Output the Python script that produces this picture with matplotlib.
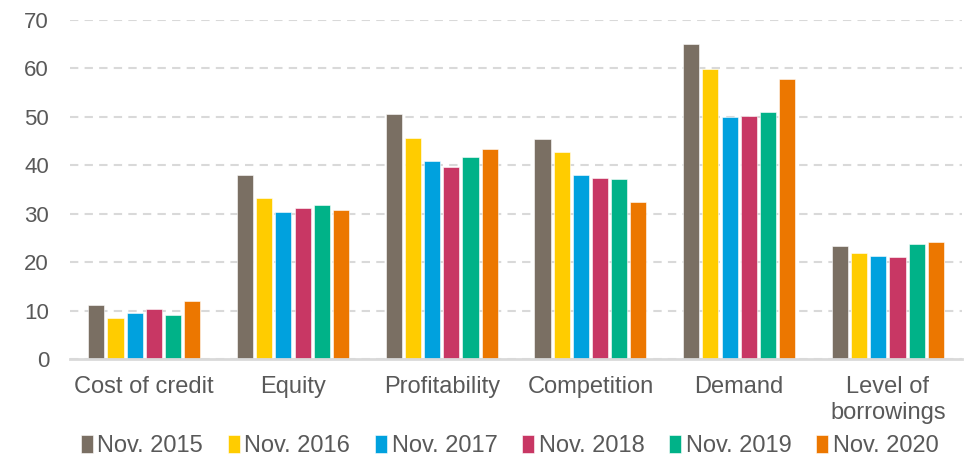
import numpy as np
import matplotlib
matplotlib.use('Agg')
import matplotlib.pyplot as plt

plt.rcParams['font.family'] = ['Liberation Sans', 'DejaVu Sans']

categories = ['Cost of credit', 'Equity', 'Profitability', 'Competition', 'Demand', 'Level of\nborrowings']
series_names = ['Nov. 2015', 'Nov. 2016', 'Nov. 2017', 'Nov. 2018', 'Nov. 2019', 'Nov. 2020']

nov_2015 = [11.2, 37.9, 50.5, 45.5, 65.0, 23.4]
nov_2016 = [8.4, 33.3, 45.6, 42.8, 59.8, 21.8]
nov_2017 = [9.6, 30.4, 40.8, 38.0, 49.9, 21.2]
nov_2018 = [10.4, 31.2, 39.7, 37.3, 50.2, 21.1]
nov_2019 = [9.2, 31.8, 41.8, 37.1, 50.9, 23.8]
nov_2020 = [11.9, 30.7, 43.3, 32.5, 57.7, 24.2]

colors = ['#7A6F63', '#FFCC00', '#00A1DE', '#C83764', '#00B288', '#EC7700']
all_series = [nov_2015, nov_2016, nov_2017, nov_2018, nov_2019, nov_2020]

text_col = '#595959'
grid_col = '#D9D9D9'

fig = plt.figure(figsize=(9.71, 4.61), dpi=100)
ax = fig.add_axes([0.072, 0.221, 0.919, 0.736])

x = np.arange(len(categories))
slot = 0.129
bar_w = 0.108
for i, (vals, name, c) in enumerate(zip(all_series, series_names, colors)):
    offs = (i - 2.5) * slot
    ax.bar(x + offs, vals, width=bar_w, color=c, label=name, zorder=3,
           edgecolor='white', linewidth=0.4)

ax.set_xlim(-0.5, len(categories) - 0.5)
ax.set_ylim(0, 70)
ax.set_yticks(range(0, 71, 10))
ax.yaxis.grid(True, color=grid_col, linestyle=(0, (4, 3)), linewidth=1.5, zorder=0)

for s in ['left', 'right', 'top']:
    ax.spines[s].set_visible(False)
ax.spines['bottom'].set_color(grid_col)
ax.spines['bottom'].set_linewidth(2)
ax.spines['bottom'].set_zorder(4)

ax.set_xticks(x)
ax.set_xticklabels(categories, fontsize=17, color=text_col, linespacing=1.25)
ax.tick_params(axis='x', length=0, pad=12)
ax.tick_params(axis='y', length=0, pad=15, labelsize=16, labelcolor=text_col)

leg = fig.legend(loc='lower center', bbox_to_anchor=(0.525, -0.028), ncol=6, frameon=False,
                 fontsize=17, handlelength=0.5, handleheight=0.75, handletextpad=0.2,
                 columnspacing=1.05, borderpad=0.2)
for t in leg.get_texts():
    t.set_color(text_col)

fig.savefig('out.png', dpi=100)
